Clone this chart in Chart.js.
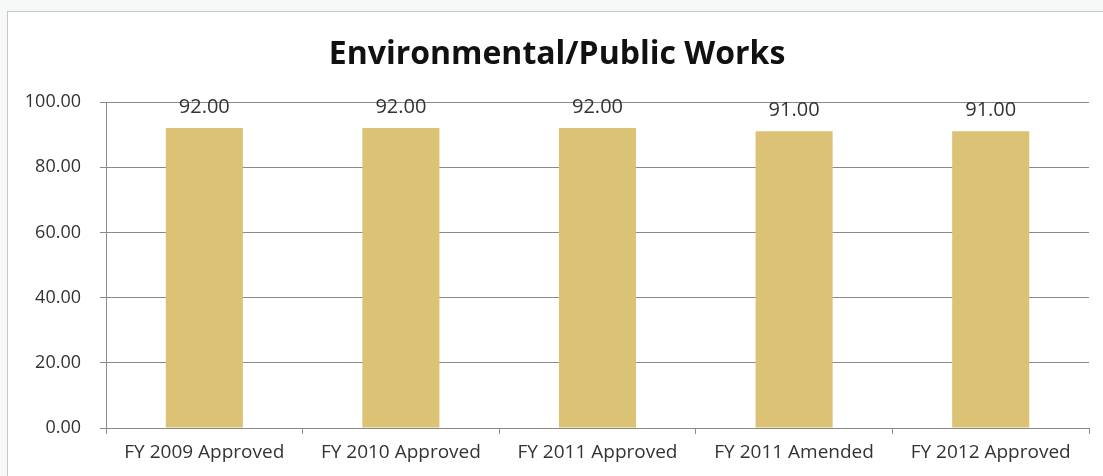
<!DOCTYPE html>
<html>
<head>
<meta charset="utf-8">
<script src="https://cdn.jsdelivr.net/npm/chart.js@4/dist/chart.umd.min.js"></script>
<style>
  html, body { margin: 0; padding: 0; background: #ffffff; }
  #wrap { position: relative; width: 1103px; height: 476px; overflow: hidden; background: #f7f9f8; }
  #frame { position: absolute; left: 7px; top: 11px; width: 1110px; height: 480px;
           background: #ffffff; border: 1px solid #c8c8c8; box-sizing: border-box; }
  #chart { position: absolute; left: 0; top: 0; }
</style>
</head>
<body>
<div id="wrap">
  <div id="frame"></div>
  <canvas id="chart" width="1103" height="476"></canvas>
</div>
<script>
// Budget categories and their values
const categories = ['FY 2009 Approved', 'FY 2010 Approved', 'FY 2011 Approved', 'FY 2011 Amended', 'FY 2012 Approved'];
const positions = [92, 92, 92, 91, 91];
const yTicks = [0, 20, 40, 60, 80, 100];
const chartTitle = 'Environmental/Public Works';

const FONT = '"Open Sans", "DejaVu Sans", sans-serif';
const GRID = '#8a8a8a';

// Heading centred over the framed panel
const heading = {
  id: 'heading',
  afterDraw(chart) {
    const ctx = chart.ctx;
    ctx.save();
    ctx.font = 'bold 32px ' + FONT;
    ctx.fillStyle = '#111111';
    ctx.textAlign = 'center';
    ctx.textBaseline = 'alphabetic';
    ctx.fillText(chartTitle, 557, 64);
    ctx.restore();
  }
};

// Writes each bar's value above it
const valueLabels = {
  id: 'valueLabels',
  afterDatasetsDraw(chart) {
    const ctx = chart.ctx;
    ctx.save();
    ctx.font = '20px ' + FONT;
    ctx.fillStyle = '#333333';
    ctx.textAlign = 'center';
    ctx.textBaseline = 'alphabetic';
    chart.data.datasets.forEach((ds, di) => {
      chart.getDatasetMeta(di).data.forEach((bar, i) => {
        ctx.fillText(Number(ds.data[i]).toFixed(2), bar.x, bar.y - 15);
      });
    });
    ctx.restore();
  }
};

new Chart(document.getElementById('chart'), {
  type: 'bar',
  data: {
    labels: categories,
    datasets: [{
      data: positions,
      backgroundColor: '#DCC274',
      borderWidth: 0,
      barPercentage: 0.8,
      categoryPercentage: 0.49
    }]
  },
  options: {
    responsive: false,
    animation: false,
    layout: { padding: { top: 102, right: 14, bottom: 0, left: 0 } },
    plugins: {
      legend: { display: false },
      tooltip: { enabled: false },
      title: { display: false }
    },
    scales: {
      x: {
        afterFit(scale) { scale.height = 48; },
        grid: { drawOnChartArea: false, drawTicks: true, tickLength: 6, color: GRID, offset: true },
        border: { display: true, color: GRID, width: 1 },
        ticks: { color: '#333333', font: { family: FONT, size: 19 }, padding: 7, maxRotation: 0 }
      },
      y: {
        min: 0,
        max: 100,
        afterFit(scale) { scale.width = 106; },
        afterBuildTicks(scale) { scale.ticks = yTicks.map(v => ({ value: v })); },
        grid: { color: GRID, lineWidth: 1, drawTicks: true, tickLength: 6 },
        border: { display: true, color: GRID, width: 1 },
        ticks: {
          color: '#333333',
          font: { family: FONT, size: 18 },
          padding: 19,
          callback: v => Number(v).toFixed(2)
        }
      }
    }
  },
  plugins: [valueLabels, heading]
});
</script>
</body>
</html>
